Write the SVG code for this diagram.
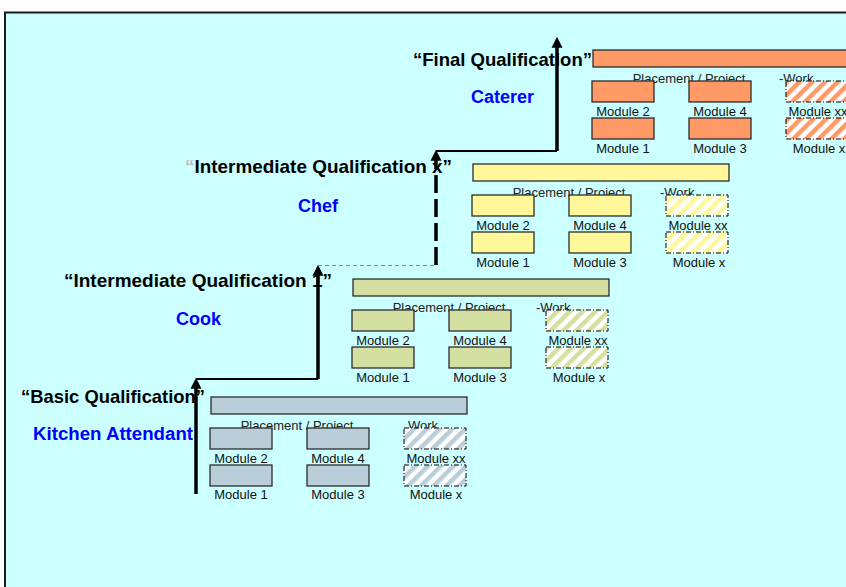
<svg xmlns="http://www.w3.org/2000/svg" width="846" height="587" viewBox="0 0 846 587">
<style>
.frame{fill:#CCFFFF;stroke:#1a1a1a;stroke-width:2}
.title{font-family:"Liberation Sans",Arial,sans-serif;font-weight:bold;font-size:18.5px;fill:#000}
.role{font-family:"Liberation Sans",Arial,sans-serif;font-weight:bold;font-size:18px;fill:#0000FF}
.lbl{font-family:"Liberation Sans",Arial,sans-serif;font-size:13px;fill:#111;text-anchor:middle}
.pp{font-family:"Liberation Sans",Arial,sans-serif;font-size:13px;fill:#222}
.box{stroke:#2b2b2b;stroke-width:1.3}
.hatch{stroke:#000;stroke-width:1;stroke-dasharray:5 2 1 2}
.b{fill:#BACED9}.c{fill:#D4E0A1}.h{fill:#FFF799}.f{fill:#FF9966}
.thick{fill:none;stroke:#000;stroke-width:3.5}
.thin{fill:none;stroke:#000;stroke-width:2}
.gray{fill:none;stroke:#888;stroke-width:1;stroke-dasharray:4 3}
</style>
<defs>
<marker id="ah" viewBox="0 0 12 12" refX="3" refY="6" markerWidth="11" markerHeight="14" markerUnits="userSpaceOnUse" orient="auto">
<path d="M0,0 L12,6 L0,12 z" fill="#000"/>
</marker>
<pattern id="hb" width="9" height="9" patternUnits="userSpaceOnUse" patternTransform="rotate(45)"><rect width="9" height="9" fill="#fff"/><rect width="4.5" height="9" fill="#BACED9"/></pattern>
<pattern id="hc" width="9" height="9" patternUnits="userSpaceOnUse" patternTransform="rotate(45)"><rect width="9" height="9" fill="#fff"/><rect width="4.5" height="9" fill="#D4E0A1"/></pattern>
<pattern id="hh" width="9" height="9" patternUnits="userSpaceOnUse" patternTransform="rotate(45)"><rect width="9" height="9" fill="#fff"/><rect width="4.5" height="9" fill="#FFF799"/></pattern>
<pattern id="hf" width="9" height="9" patternUnits="userSpaceOnUse" patternTransform="rotate(45)"><rect width="9" height="9" fill="#fff"/><rect width="4.5" height="9" fill="#FF9966"/></pattern>
</defs>
<rect class="frame" x="5" y="12.5" width="860" height="600"/>

<g id="basic">
<text class="title" x="21" y="403" textLength="184" lengthAdjust="spacingAndGlyphs">“Basic Qualification”</text>
<text class="role" x="33" y="440" textLength="160" lengthAdjust="spacingAndGlyphs">Kitchen Attendant</text>
<rect class="box b" x="211" y="397" width="256" height="17"/>
<text class="pp" x="297" y="430" text-anchor="middle">Placement / Project</text>
<text class="pp" x="408" y="430">Work</text>
<rect class="box b" x="210" y="428" width="62" height="21"/>
<rect class="box b" x="307" y="428" width="62" height="21"/>
<rect class="hatch" fill="url(#hb)" x="404" y="428" width="62" height="21"/>
<rect class="box b" x="210" y="465" width="62" height="21"/>
<rect class="box b" x="307" y="465" width="62" height="21"/>
<rect class="hatch" fill="url(#hb)" x="404" y="465" width="62" height="21"/>
<text class="lbl" x="241" y="463">Module 2</text>
<text class="lbl" x="338" y="463">Module 4</text>
<text class="lbl" x="436" y="463">Module xx</text>
<text class="lbl" x="241" y="499">Module 1</text>
<text class="lbl" x="338" y="499">Module 3</text>
<text class="lbl" x="436" y="499">Module x</text>
</g>

<g id="cook">
<text class="title" x="64" y="287" textLength="268" lengthAdjust="spacingAndGlyphs">“Intermediate Qualification 1”</text>
<text class="role" x="176" y="325">Cook</text>
<rect class="box c" x="353" y="279" width="256" height="17"/>
<text class="pp" x="449" y="312" text-anchor="middle">Placement / Project</text>
<text class="pp" x="536" y="312">-Work</text>
<rect class="box c" x="352" y="310" width="62" height="21"/>
<rect class="box c" x="449" y="310" width="62" height="21"/>
<rect class="hatch" fill="url(#hc)" x="546" y="310" width="62" height="21"/>
<rect class="box c" x="352" y="347" width="62" height="21"/>
<rect class="box c" x="449" y="347" width="62" height="21"/>
<rect class="hatch" fill="url(#hc)" x="546" y="347" width="62" height="21"/>
<text class="lbl" x="383" y="345">Module 2</text>
<text class="lbl" x="480" y="345">Module 4</text>
<text class="lbl" x="578" y="345">Module xx</text>
<text class="lbl" x="383" y="382">Module 1</text>
<text class="lbl" x="480" y="382">Module 3</text>
<text class="lbl" x="579" y="382">Module x</text>
</g>

<g id="chef">
<text class="title" x="185" y="173" textLength="267" lengthAdjust="spacingAndGlyphs"><tspan fill="#BBBBBB">“</tspan>Intermediate Qualification x”</text>
<text class="role" x="298" y="212">Chef</text>
<rect class="box h" x="473" y="164" width="256" height="17"/>
<text class="pp" x="569" y="197" text-anchor="middle">Placement / Project</text>
<text class="pp" x="660" y="197">-Work</text>
<rect class="box h" x="472" y="195" width="62" height="21"/>
<rect class="box h" x="569" y="195" width="62" height="21"/>
<rect class="hatch" fill="url(#hh)" x="666" y="195" width="62" height="21"/>
<rect class="box h" x="472" y="232" width="62" height="21"/>
<rect class="box h" x="569" y="232" width="62" height="21"/>
<rect class="hatch" fill="url(#hh)" x="666" y="232" width="62" height="21"/>
<text class="lbl" x="503" y="230">Module 2</text>
<text class="lbl" x="600" y="230">Module 4</text>
<text class="lbl" x="698" y="230">Module xx</text>
<text class="lbl" x="503" y="267">Module 1</text>
<text class="lbl" x="600" y="267">Module 3</text>
<text class="lbl" x="699" y="267">Module x</text>
</g>

<g id="final">
<text class="title" x="413" y="66" textLength="179" lengthAdjust="spacingAndGlyphs">“Final Qualification”</text>
<text class="role" x="471" y="103">Caterer</text>
<rect class="box f" x="593" y="50" width="256" height="17"/>
<text class="pp" x="689" y="83" text-anchor="middle">Placement / Project</text>
<text class="pp" x="779" y="83">-Work</text>
<rect class="box f" x="592" y="81" width="62" height="21"/>
<rect class="box f" x="689" y="81" width="62" height="21"/>
<rect class="hatch" fill="url(#hf)" x="786" y="81" width="62" height="21"/>
<rect class="box f" x="592" y="118" width="62" height="21"/>
<rect class="box f" x="689" y="118" width="62" height="21"/>
<rect class="hatch" fill="url(#hf)" x="786" y="118" width="62" height="21"/>
<text class="lbl" x="623" y="116">Module 2</text>
<text class="lbl" x="720" y="116">Module 4</text>
<text class="lbl" x="818" y="116">Module xx</text>
<text class="lbl" x="623" y="153">Module 1</text>
<text class="lbl" x="720" y="153">Module 3</text>
<text class="lbl" x="819" y="153">Module x</text>
</g>

<g id="connectors">
<path class="thick" d="M196,494 V386" marker-end="url(#ah)"/>
<path class="thin" d="M196,379 H318"/>
<path class="thick" d="M318,379 V273" marker-end="url(#ah)"/>
<path class="gray" d="M318,265.5 H436"/>
<path class="thick" d="M436,265 V158" stroke-dasharray="18 6" marker-end="url(#ah)"/>
<path class="thin" d="M436,151 H557"/>
<path class="thick" d="M557,151 V45" marker-end="url(#ah)"/>
</g>
</svg>
